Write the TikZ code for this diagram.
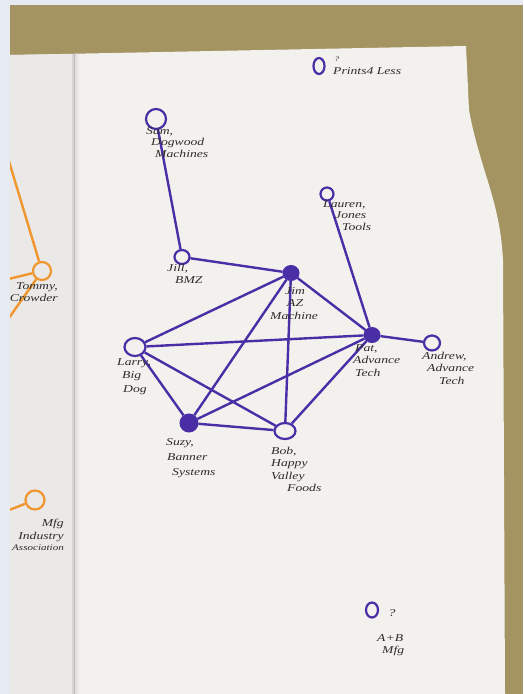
\documentclass[tikz,border=0pt]{standalone}
\usepackage{fontspec}
\usetikzlibrary{shapes.geometric}
\setmainfont{Liberation Serif}
\newfontfamily\handfont{Liberation Serif}[FakeStretch=1.3]
\definecolor{frame}{HTML}{E6EAF1}
\definecolor{table}{HTML}{A39462}
\definecolor{paper}{HTML}{F2F1EE}
\definecolor{paperL}{HTML}{EAE9E7}
\definecolor{ink}{HTML}{4A2EA6}
\definecolor{inkO}{HTML}{F0962E}
\definecolor{pen}{HTML}{2E2C2A}
\tikzset{
  hollow/.style={ellipse,draw=ink,line width=2.2pt,fill=none,inner sep=0pt},
  solid/.style={ellipse,draw=ink,line width=2pt,fill=ink,inner sep=0pt},
  orangenode/.style={circle,draw=inkO,line width=2.2pt,inner sep=0pt,minimum size=18pt},
  link/.style={draw=ink,line width=2.4pt},
  olink/.style={draw=inkO,line width=2.4pt},
  hand/.style={text=pen,font=\handfont\itshape\fontsize{10.5}{12.5}\selectfont,inner sep=0pt}
}
\begin{document}
\begin{tikzpicture}[x=1pt,y=-1pt]
\useasboundingbox (0,0) rectangle (523,694);
% background
\fill[frame] (0,0) rectangle (523,694);
\fill[table] (10,5) rectangle (523,694);
\fill[paper] (10,55) -- (466,46) -- (469,110) .. controls (480,170) and (500,200) .. (503,260) -- (505,694) -- (10,694) -- cycle;
\fill[paperL] (10,55) -- (74,54) -- (74,694) -- (10,694) -- cycle;
\fill[left color=paperL!80!gray,right color=paper] (72,54) rectangle (80,694);
\draw[gray!55,line width=0.5pt] (74,54) -- (74,694);

% orange left page (clipped)
\begin{scope}
\clip (10,55) rectangle (74,694);
\node[orangenode] (tommy) at (42,271) {};
\coordinate (t1) at (8,158);
\coordinate (t2) at (4,280);
\coordinate (t3) at (4,325);
\draw[olink] (t1) -- (tommy);
\draw[olink] (t2) -- (tommy);
\draw[olink] (t3) -- (tommy);
\node[hand,anchor=north east,align=right] (tommyl) at (58,282) {Tommy,\\Crowder};
\node[orangenode,minimum size=19pt] (mfgassoc) at (35,500) {};
\coordinate (m1) at (4,512);
\draw[olink] (m1) -- (mfgassoc);
\node[hand,anchor=north east,align=right] (mfgl) at (64,519) {Mfg\\Industry\\[-1pt]{\fontsize{8.5}{10}\selectfont Association}};
\end{scope}

% purple nodes
\node[hollow,minimum width=20pt,minimum height=20pt] (sam) at (156,119) {};
\node[hollow,minimum width=15pt,minimum height=14pt] (jill) at (182,257) {};
\node[solid,minimum width=15pt,minimum height=14pt] (jim) at (291,273) {};
\node[hollow,minimum width=13pt,minimum height=13pt] (lauren) at (327,194) {};
\node[solid,minimum width=15pt,minimum height=14pt] (pat) at (372,335) {};
\node[hollow,minimum width=16pt,minimum height=15pt] (andrew) at (432,343) {};
\node[hollow,minimum width=21pt,minimum height=18pt] (larry) at (135,347) {};
\node[solid,minimum width=17pt,minimum height=17pt] (suzy) at (189,423) {};
\node[hollow,minimum width=21pt,minimum height=16pt] (bob) at (285,431) {};
\node[hollow,minimum width=11pt,minimum height=16pt] (prints) at (319,66) {};
\node[hollow,minimum width=12pt,minimum height=15pt] (ab) at (372,610) {};

% connectors
\draw[link] (sam) -- (jill);
\draw[link] (jill) -- (jim);
\draw[link] (lauren) -- (pat);
\draw[link] (jim) -- (pat);
\draw[link] (pat) -- (andrew);
\draw[link] (jim) -- (larry);
\draw[link] (jim) -- (suzy);
\draw[link] (jim) -- (bob);
\draw[link] (larry) -- (pat);
\draw[link] (larry) -- (suzy);
\draw[link] (larry) -- (bob);
\draw[link] (suzy) -- (pat);
\draw[link] (suzy) -- (bob);
\draw[link] (bob) -- (pat);

% labels
\node[hand,anchor=north west,align=left] (saml) at (146,127) {Sam,\\[-1pt]\hspace*{5pt}Dogwood\\[-1pt]\hspace*{9pt}Machines};
\node[hand,anchor=north west,align=left] (jilll) at (167,264) {Jill,\\\hspace*{8pt}BMZ};
\node[hand,anchor=north west,align=left] (jiml) at (270,287) {\hspace*{15pt}Jim\\\hspace*{17pt}AZ\\Machine};
\node[hand,anchor=north west,align=left] (laurenl) at (323,200) {Lauren,\\[-1pt]\hspace*{12pt}Jones\\[-1pt]\hspace*{19pt}Tools};
\node[hand,anchor=north west,align=left] (patl) at (353,344) {\hspace*{2pt}Pat,\\Advance\\\hspace*{2pt}Tech};
\node[hand,anchor=north west,align=left] (andrewl) at (422,352) {Andrew,\\\hspace*{5pt}Advance\\\hspace*{17pt}Tech};
\node[hand,anchor=north west,align=left] (larryl) at (117,358) {Larry,\\[1pt]\hspace*{5pt}Big\\[1pt]\hspace*{6pt}Dog};
\node[hand,anchor=north west,align=left] (suzyl) at (166,438) {Suzy,\\[3pt]\hspace*{1pt}Banner\\[2pt]\hspace*{6pt}Systems};
\node[hand,anchor=north west,align=left] (bobl) at (271,447) {Bob,\\Happy\\Valley\\\hspace*{16pt}Foods};
\node[hand,font=\handfont\itshape\fontsize{7}{8}\selectfont] (printsq) at (337,59) {?};
\node[hand,anchor=west] (printsl) at (333,71) {Prints4 Less};
\node[hand] (abq) at (392,613) {?};
\node[hand,anchor=north west,align=left] (abl) at (377,634) {A+B\\\hspace*{5pt}Mfg};
\end{tikzpicture}
\end{document}
